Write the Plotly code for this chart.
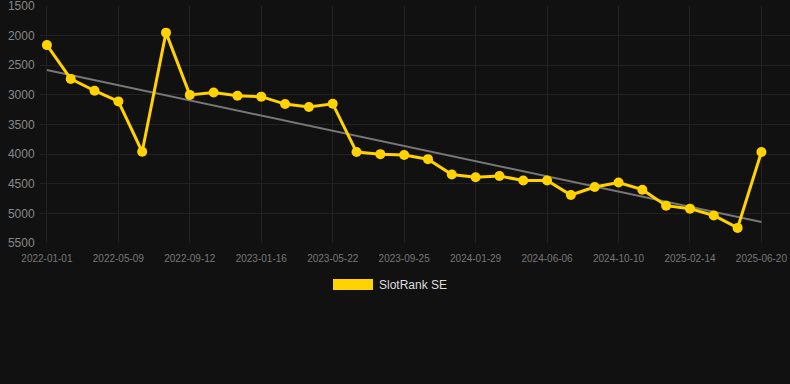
import plotly.graph_objects as go

dates = [
    "2022-01-01", "2022-02-11", "2022-03-25", "2022-05-09", "2022-06-20", "2022-08-01",
    "2022-09-12", "2022-10-24", "2022-12-05", "2023-01-16", "2023-02-27", "2023-04-10",
    "2023-05-22", "2023-07-03", "2023-08-14", "2023-09-25", "2023-11-06", "2023-12-18",
    "2024-01-29", "2024-03-11", "2024-04-24", "2024-06-06", "2024-07-18", "2024-08-29",
    "2024-10-10", "2024-11-21", "2025-01-03", "2025-02-14", "2025-03-28", "2025-05-09",
    "2025-06-20",
]
rank = [
    2160, 2730, 2930, 3110, 3960, 1950, 3000, 2960, 3015, 3030, 3155, 3205,
    3150, 3965, 4000, 4015, 4085, 4345, 4390, 4370, 4445, 4445, 4690, 4555,
    4480, 4600, 4870, 4920, 5035, 5245, 3965,
]
trend_y = [2580, 5145]
y_ticks = [1500, 2000, 2500, 3000, 3500, 4000, 4500, 5000, 5500]
series_name = "SlotRank SE"

bg = "#111111"
gold = "#FFD200"
grid = "#222222"

fig = go.Figure()
fig.add_trace(go.Scatter(
    x=[dates[0], dates[-1]], y=trend_y, mode="lines",
    line=dict(color="#777777", width=2), showlegend=False, hoverinfo="skip",
))
fig.add_trace(go.Scatter(
    x=dates, y=rank, mode="lines+markers", name=series_name,
    line=dict(color=gold, width=3),
    marker=dict(color=gold, size=10),
    cliponaxis=False, showlegend=False,
))

fig.update_layout(
    width=790, height=384,
    paper_bgcolor=bg, plot_bgcolor=bg,
    margin=dict(l=40, r=0, t=6, b=141),
    font=dict(family="Liberation Sans, Arial, sans-serif"),
    xaxis=dict(
        type="category", categoryorder="array", categoryarray=dates,
        range=[-0.29, 31.2],
        tickvals=dates[::3], ticktext=dates[::3],
        showgrid=True, gridcolor=grid, gridwidth=1,
        zeroline=False, showline=False,
        ticks="outside", ticklen=6, tickcolor=bg,
        tickfont=dict(size=10, color="#777777"),
    ),
    yaxis=dict(
        range=[5500, 1500], tickvals=y_ticks,
        showgrid=True, gridcolor=grid, gridwidth=1,
        zeroline=False, showline=False,
        ticklabeloverflow="allow",
        ticks="outside", ticklen=2, tickcolor=bg,
        tickfont=dict(size=12, color="#888888"),
    ),
    shapes=[dict(
        type="rect", xref="paper", yref="paper",
        x0=(333 - 40) / 750, x1=(373 - 40) / 750,
        y0=(243 - 290) / 237, y1=(243 - 279) / 237,
        fillcolor=gold, line=dict(width=0),
    )],
    annotations=[dict(
        text=series_name, xref="paper", yref="paper",
        x=(377 - 40) / 750, y=(243 - 285) / 237,
        xanchor="left", yanchor="middle", showarrow=False,
        font=dict(size=12, color="#DDDDDD"),
    )],
)

fig.write_html(
    "out.html",
    config={"displayModeBar": False},
    post_script="document.body.style.margin='0';",
)
